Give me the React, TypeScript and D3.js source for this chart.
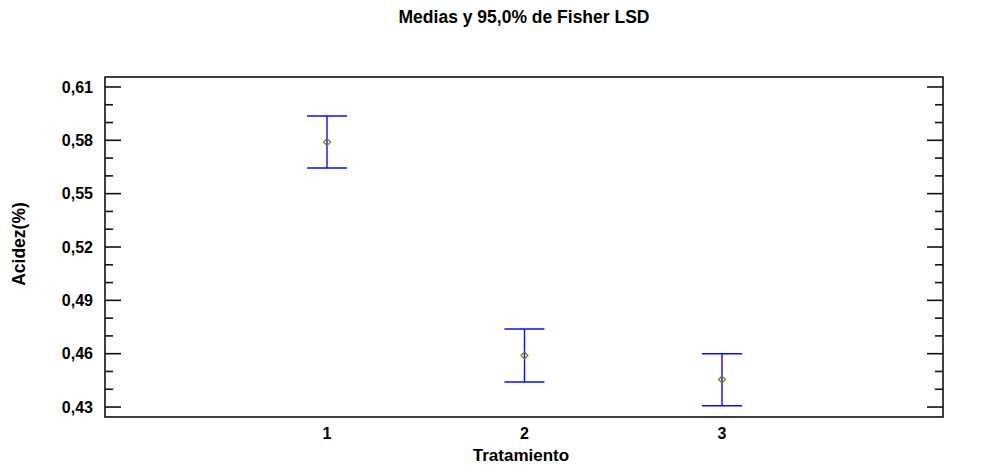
import React from "react";
import * as d3 from "d3";

const title = "Medias y 95,0% de Fisher LSD";
const xLabel = "Tratamiento";
const yLabel = "Acidez(%)";
const categories = ["1", "2", "3"];
const means = [0.579, 0.459, 0.4455];
const lower = [0.5644, 0.4441, 0.4307];
const upper = [0.5937, 0.4739, 0.46];
const yMajorTicks = [0.43, 0.46, 0.49, 0.52, 0.55, 0.58, 0.61];
const yMinorTicks = [0.44, 0.45, 0.47, 0.48, 0.5, 0.51, 0.53, 0.54, 0.56, 0.57, 0.59, 0.6];

const W = 995;
const H = 468;
const left = 105, right = 943, top = 77, bottom = 417;

export default function App() {
  const y = d3.scaleLinear().domain([0.4244, 0.6156]).range([bottom, top]);
  const x = d3.scaleLinear().domain([-0.124, 4.119]).range([left, right]);
  const fmt = (v: number) => d3.format(".2f")(v).replace(".", ",");
  const font = "'Liberation Sans', Arial, sans-serif";
  const blue = "#0a0aff";
  const olive = "#7a7a00";
  const capHalf = 20;
  const dm = 3.5;
  return (
    <svg width={W} height={H} style={{ position: "absolute", left: 0, top: 0, background: "#fff" }} fontFamily={font}>
      <rect x={0} y={0} width={W} height={H} fill="#fff" />
      <text x={524} y={23} textAnchor="middle" fontWeight="bold" fontSize={17.5}>{title}</text>
      {/* box */}
      <rect x={left} y={top} width={right - left} height={bottom - top} fill="none" stroke="#111" strokeWidth={1.6} />
      {/* y ticks */}
      {yMajorTicks.map((t) => (
        <g key={"M" + t}>
          <line x1={left} x2={left + 16} y1={y(t)} y2={y(t)} stroke="#111" strokeWidth={1.6} />
          <line x1={right - 16} x2={right} y1={y(t)} y2={y(t)} stroke="#111" strokeWidth={1.6} />
          <text x={93} y={y(t)} dy="0.36em" textAnchor="end" fontWeight="bold" fontSize={16}>{fmt(t)}</text>
        </g>
      ))}
      {yMinorTicks.map((t) => (
        <g key={"m" + t}>
          <line x1={left} x2={left + 8} y1={y(t)} y2={y(t)} stroke="#111" strokeWidth={1.6} />
          <line x1={right - 8} x2={right} y1={y(t)} y2={y(t)} stroke="#111" strokeWidth={1.6} />
        </g>
      ))}
      {/* x labels */}
      {categories.map((c, i) => (
        <text key={"x" + c} x={x(i + 1)} y={439} textAnchor="middle" fontWeight="bold" fontSize={16}>{c}</text>
      ))}
      <text x={521} y={461} textAnchor="middle" fontWeight="bold" fontSize={17}>{xLabel}</text>
      <text transform={`translate(25,244) rotate(-90)`} textAnchor="middle" fontWeight="bold" fontSize={17.5}>{yLabel}</text>
      {/* error bars */}
      {categories.map((c, i) => {
        const cx = x(i + 1);
        const cy = y(means[i]);
        return (
          <g key={"e" + c}>
            <line x1={cx} x2={cx} y1={y(upper[i])} y2={y(lower[i])} stroke={blue} strokeWidth={1.4} />
            <line x1={cx - capHalf} x2={cx + capHalf} y1={y(upper[i])} y2={y(upper[i])} stroke={blue} strokeWidth={1.4} />
            <line x1={cx - capHalf} x2={cx + capHalf} y1={y(lower[i])} y2={y(lower[i])} stroke={blue} strokeWidth={1.4} />
            <path d={`M${cx - dm},${cy} L${cx},${cy - dm} L${cx + dm},${cy} L${cx},${cy + dm} Z`} fill="none" stroke={olive} strokeWidth={1.2} />
          </g>
        );
      })}
    </svg>
  );
}
